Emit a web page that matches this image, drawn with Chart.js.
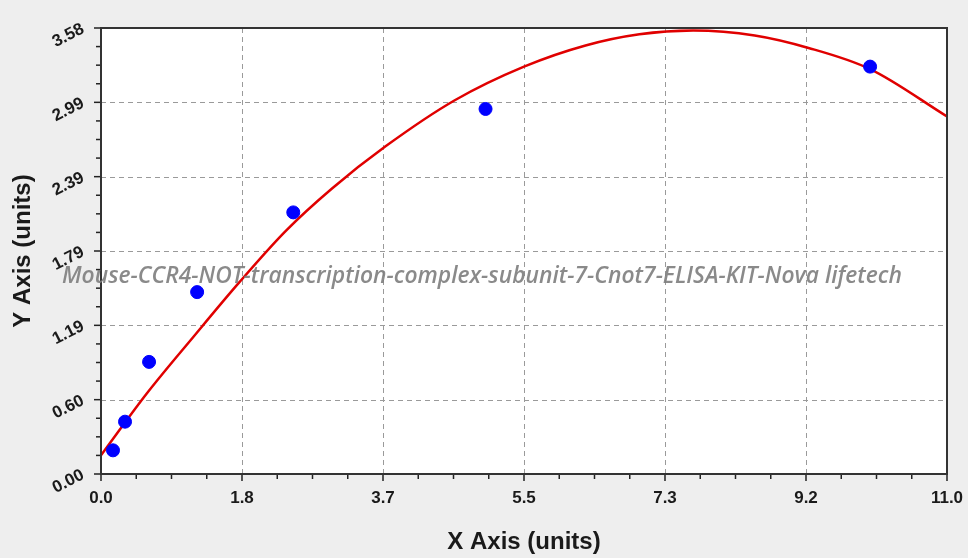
<!DOCTYPE html>
<html>
<head>
<meta charset="utf-8">
<script src="https://cdn.jsdelivr.net/npm/chart.js@4.4.1/dist/chart.umd.min.js"></script>
<style>
  html, body { margin: 0; padding: 0; background: #eeeeee; }
  #wrap { width: 968px; height: 558px; position: relative; }
</style>
</head>
<body>
<div id="wrap"><canvas id="stdCurve"></canvas></div>
<script>
// Standard points (blue dots)
const standardX = [0.156, 0.3125, 0.625, 1.25, 2.5, 5, 10];
const standardY = [0.19, 0.42, 0.90, 1.46, 2.10, 2.93, 3.27];

// Fitted curve (red line)
const curveX = [0, 0.6, 1.2, 1.8, 2.4, 3.0, 3.7, 4.6, 5.5, 6.3, 7.0, 7.7, 8.5, 9.2, 10.0, 11.0];
const curveY = [0.15, 0.65, 1.10, 1.54, 1.95, 2.29, 2.63, 3.00, 3.27, 3.44, 3.53, 3.56, 3.52, 3.42, 3.25, 2.87];

// Axis ticks
const xTickValues = [0, 1.8333, 3.6667, 5.5, 7.3333, 9.1667, 11];
const xTickLabels = ["0.0", "1.8", "3.7", "5.5", "7.3", "9.2", "11.0"];
const yTickValues = [0, 0.5967, 1.1933, 1.79, 2.3867, 2.9833, 3.58];
const yTickLabels = ["0.00", "0.60", "1.19", "1.79", "2.39", "2.99", "3.58"];

const watermark = "Mouse-CCR4-NOT-transcription-complex-subunit-7-Cnot7-ELISA-KIT-Nova lifetech";

const toPoints = (xs, ys) => xs.map((x, i) => ({ x, y: ys[i] }));

/* =========================
   PLUGINS
========================= */

const plotFrame = {
  id: "plotFrame",
  beforeDatasetsDraw(chart) {
    const { ctx, chartArea: a, scales } = chart;
    ctx.save();
    ctx.fillStyle = "#ffffff";
    ctx.fillRect(a.left, a.top, a.right - a.left, a.bottom - a.top);

    // dashed grid
    ctx.strokeStyle = "#9a9a9a";
    ctx.lineWidth = 1;
    ctx.setLineDash([5, 4]);
    xTickValues.slice(1, -1).forEach((v) => {
      const p = Math.round(scales.x.getPixelForValue(v)) + 0.5;
      ctx.beginPath(); ctx.moveTo(p, a.top); ctx.lineTo(p, a.bottom); ctx.stroke();
    });
    yTickValues.slice(1, -1).forEach((v) => {
      const p = Math.round(scales.y.getPixelForValue(v)) + 0.5;
      ctx.beginPath(); ctx.moveTo(a.left, p); ctx.lineTo(a.right, p); ctx.stroke();
    });
    ctx.restore();
  },
  afterDatasetsDraw(chart) {
    const { ctx, chartArea: a, scales } = chart;
    ctx.save();

    // minor + major ticks, pointing out of the plot
    ctx.strokeStyle = "#222";
    ctx.lineWidth = 1.5;
    const xs = scales.x, ys = scales.y;
    for (let i = 0; i < xTickValues.length; i++) {
      const v = xTickValues[i];
      const p = xs.getPixelForValue(v);
      ctx.beginPath(); ctx.moveTo(p, a.bottom); ctx.lineTo(p, a.bottom + 7); ctx.stroke();
      if (i < xTickValues.length - 1) {
        const step = (xTickValues[i + 1] - v) / 4;
        for (let k = 1; k < 4; k++) {
          const q = xs.getPixelForValue(v + step * k);
          ctx.beginPath(); ctx.moveTo(q, a.bottom); ctx.lineTo(q, a.bottom + 5); ctx.stroke();
        }
      }
    }
    for (let i = 0; i < yTickValues.length; i++) {
      const v = yTickValues[i];
      const p = ys.getPixelForValue(v);
      ctx.beginPath(); ctx.moveTo(a.left, p); ctx.lineTo(a.left - 7, p); ctx.stroke();
      if (i < yTickValues.length - 1) {
        const step = (yTickValues[i + 1] - v) / 4;
        for (let k = 1; k < 4; k++) {
          const q = ys.getPixelForValue(v + step * k);
          ctx.beginPath(); ctx.moveTo(a.left, q); ctx.lineTo(a.left - 5, q); ctx.stroke();
        }
      }
    }

    // frame
    ctx.strokeStyle = "#333";
    ctx.lineWidth = 2;
    ctx.strokeRect(a.left, a.top, a.right - a.left, a.bottom - a.top);

    // watermark
    ctx.font = "italic 600 23px 'Open Sans'";
    ctx.fillStyle = "rgba(125,125,125,0.9)";
    ctx.textBaseline = "middle";
    ctx.textAlign = "left";
    ctx.fillText(watermark, 62, 276, 840);
    ctx.restore();
  },
};

/* =========================
   CHART
========================= */

const tickFont = { family: "'Liberation Sans', Arial, sans-serif", size: 17, weight: "bold" };
const titleFont = { family: "'Liberation Sans', Arial, sans-serif", size: 24, weight: "bold" };

new Chart(document.getElementById("stdCurve"), {
  type: "scatter",
  data: {
    datasets: [
      {
        label: "Standards",
        data: toPoints(standardX, standardY),
        backgroundColor: "#0000ff",
        borderColor: "#0000ff",
        pointRadius: 6.5,
        order: 0,
      },
      {
        label: "Fit",
        data: toPoints(curveX, curveY),
        showLine: true,
        borderColor: "#e00000",
        borderWidth: 2.5,
        pointRadius: 0,
        cubicInterpolationMode: "monotone",
        order: 1,
      },
    ],
  },
  options: {
    responsive: true,
    maintainAspectRatio: false,
    animation: false,
    layout: { padding: { top: 28, right: 21, left: 0, bottom: 0 } },
    plugins: { legend: { display: false }, tooltip: { enabled: false } },
    scales: {
      x: {
        type: "linear",
        min: 0,
        max: 11,
        afterBuildTicks: (s) => { s.ticks = xTickValues.map((v) => ({ value: v })); },
        afterFit: (s) => { s.height = 84; s.paddingLeft = 0; s.paddingRight = 0; },
        ticks: {
          font: tickFont,
          color: "#1a1a1a",
          padding: 6,
          maxRotation: 0,
          callback: (v, i) => xTickLabels[i],
        },
        grid: { display: false },
        border: { display: false },
        title: { display: true, text: "X Axis (units)", font: titleFont, color: "#1a1a1a", padding: { top: 0, bottom: 1 } },
      },
      y: {
        type: "linear",
        min: 0,
        max: 3.58,
        afterBuildTicks: (s) => { s.ticks = yTickValues.map((v) => ({ value: v })); },
        afterFit: (s) => { s.width = 101; s.paddingTop = 0; s.paddingBottom = 0; },
        ticks: {
          font: tickFont,
          color: "#1a1a1a",
          padding: 10,
          minRotation: 27,
          maxRotation: 27,
          callback: (v, i) => yTickLabels[i],
        },
        grid: { display: false },
        border: { display: false },
        title: { display: true, text: "Y Axis (units)", font: titleFont, color: "#1a1a1a", padding: { top: 9, bottom: 0 } },
      },
    },
  },
  plugins: [plotFrame],
});
</script>
</body>
</html>
